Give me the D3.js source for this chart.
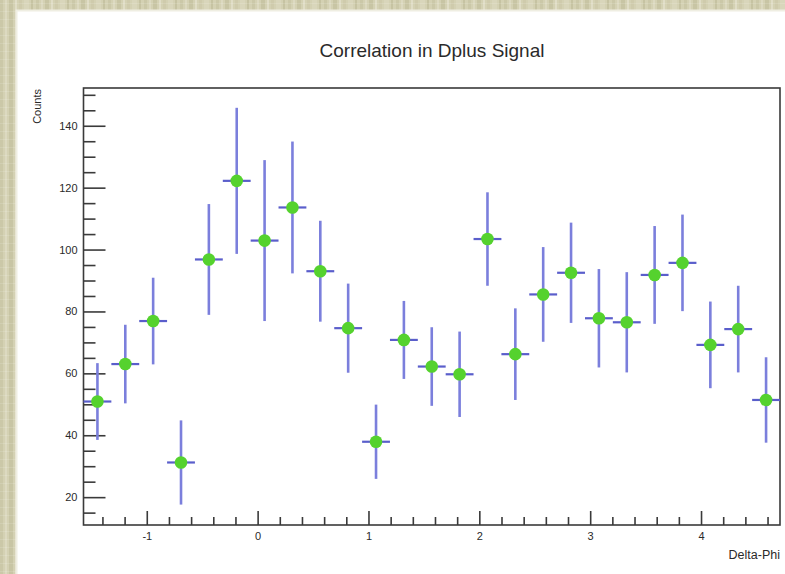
<!DOCTYPE html>
<html>
<head>
<meta charset="utf-8">
<script src="https://cdn.jsdelivr.net/npm/d3@7"></script>
<style>
  html, body { margin: 0; padding: 0; background: #ffffff; }
  svg { display: block; }
  text { font-family: "Liberation Sans", Arial, Helvetica, sans-serif; }
</style>
</head>
<body>
<svg id="chart" width="785" height="574"></svg>
<script>
// Histogram: Delta-Phi correlation of D+ candidates (25 bins over [-pi/2, 3pi/2])
const binCounts = [50.9, 63.0, 76.9, 31.2, 96.8, 122.2, 102.9, 113.6, 93.0, 74.6,
                   37.9, 70.8, 62.2, 59.7, 103.4, 66.2, 85.5, 92.5, 77.8, 76.5,
                   91.8, 95.7, 69.2, 74.3, 51.4];
const binErrors = [12.4, 12.7, 14.0, 13.6, 17.9, 23.6, 26.0, 21.3, 16.3, 14.4,
                   12.0, 12.6, 12.7, 13.8, 15.1, 14.8, 15.3, 16.2, 15.9, 16.2,
                   15.8, 15.6, 14.0, 14.0, 13.8];
const xRange = [-Math.PI / 2, 3 * Math.PI / 2];
const yRange = [11.0, 152.2];
const xMajorTicks = [-1, 0, 1, 2, 3, 4];
const yMajorTicks = [20, 40, 60, 80, 100, 120, 140];
const titleText = "Correlation in Dplus Signal";
const xTitle = "Delta-Phi";
const yTitle = "Counts";

const svg = d3.select("#chart");
const W = 785, H = 574;

// linen-like canvas behind the pad
const defs = svg.append("defs");
const pat = defs.append("pattern")
  .attr("id", "linen").attr("patternUnits", "userSpaceOnUse")
  .attr("width", 36).attr("height", 8);
pat.append("rect").attr("width", 36).attr("height", 8).attr("fill", "#d4d1b3");
[[0, 3, "#cbc8a8"], [5, 2, "#dcd9c0"], [9, 4, "#c8c5a4"], [15, 2, "#e0ddc6"],
 [19, 3, "#cfcbac"], [24, 5, "#d9d6bb"], [31, 2, "#c6c3a2"]].forEach(([px, w, c]) =>
  pat.append("rect").attr("x", px).attr("width", w).attr("height", 8).attr("fill", c));
pat.append("rect").attr("y", 3).attr("width", 36).attr("height", 1)
  .attr("fill", "#ffffff").attr("opacity", 0.12);
svg.append("rect").attr("width", W).attr("height", H).attr("fill", "url(#linen)");

// white pad
svg.append("rect").attr("x", 16).attr("y", 10).attr("width", W - 16).attr("height", H - 10)
  .attr("fill", "#ffffff");
svg.append("path").attr("d", `M16.5,${H} V10.5 H${W}`)
  .attr("fill", "none").attr("stroke", "#efeee2").attr("stroke-width", 2);

// frame geometry
const frameL = 83.5, frameR = 780, frameT = 88, frameB = 525;
const x = d3.scaleLinear().domain(xRange).range([frameL, frameR]);
const y = d3.scaleLinear().domain(yRange).range([frameB, frameT]);

const axisColor = "#3a3a3a";
const textColor = "#2a2a2a";
const plainNum = d => String(d);

// minor tick positions
const xMinor = d3.range(-15, 47).map(i => i / 5)
  .filter(v => v >= xRange[0] && v <= xRange[1] && Math.abs(v - Math.round(v)) > 1e-6);
const yMinor = d3.range(15, 155, 5).filter(v => v >= yRange[0] && v <= yRange[1] && v % 20 !== 0);

// x axis: ticks pointing up into the frame
const gx = svg.append("g").attr("transform", `translate(0,${frameB})`);
gx.call(d3.axisBottom(x).tickValues(xMajorTicks).tickSize(-14).tickPadding(6)
  .tickFormat(plainNum));
const gxm = svg.append("g").attr("transform", `translate(0,${frameB})`);
gxm.call(d3.axisBottom(x).tickValues(xMinor).tickSize(-8).tickFormat(""));

// y axis: ticks pointing right into the frame
const gy = svg.append("g").attr("transform", `translate(${frameL},0)`);
gy.call(d3.axisLeft(y).tickValues(yMajorTicks).tickSize(-22).tickPadding(6)
  .tickFormat(plainNum));
const gym = svg.append("g").attr("transform", `translate(${frameL},0)`);
gym.call(d3.axisLeft(y).tickValues(yMinor).tickSize(-12).tickFormat(""));

[gx, gxm, gy, gym].forEach(g => {
  g.select(".domain").remove();
  g.selectAll(".tick line").attr("stroke", axisColor).attr("stroke-width", 1.6);
  g.selectAll(".tick text").attr("fill", textColor)
    .style("font-family", '"Liberation Sans", Arial, sans-serif').style("font-size", "11px");
});
gx.selectAll(".tick text").attr("dy", "0.85em");

// frame box
svg.append("rect").attr("x", frameL).attr("y", frameT)
  .attr("width", frameR - frameL).attr("height", frameB - frameT)
  .attr("fill", "none").attr("stroke", axisColor).attr("stroke-width", 1.6);

// data points with error bars
const nb = binCounts.length;
const bw = (xRange[1] - xRange[0]) / nb;
const pts = binCounts.map((c, i) => ({
  lo: xRange[0] + i * bw, hi: xRange[0] + (i + 1) * bw,
  xc: xRange[0] + (i + 0.5) * bw, c, e: binErrors[i]
}));
const gp = svg.append("g");
gp.selectAll("line.v").data(pts).join("line").attr("class", "v")
  .attr("x1", d => x(d.xc)).attr("x2", d => x(d.xc))
  .attr("y1", d => y(d.c + d.e)).attr("y2", d => y(d.c - d.e))
  .attr("stroke", "#7b7fdc").attr("stroke-width", 2.6);
gp.selectAll("line.h").data(pts).join("line").attr("class", "h")
  .attr("x1", d => x(d.lo)).attr("x2", d => x(d.hi))
  .attr("y1", d => y(d.c)).attr("y2", d => y(d.c))
  .attr("stroke", "#5a5ecb").attr("stroke-width", 2.2);
gp.selectAll("circle").data(pts).join("circle")
  .attr("cx", d => x(d.xc)).attr("cy", d => y(d.c)).attr("r", 6.3)
  .attr("fill", "#55d22e");

// titles
svg.append("text").attr("x", 432).attr("y", 57).attr("text-anchor", "middle")
  .attr("fill", textColor).style("font-size", "19px").text(titleText);
svg.append("text").attr("x", frameR).attr("y", 559).attr("text-anchor", "end")
  .attr("fill", textColor).style("font-size", "12.5px").text(xTitle);
svg.append("text").attr("transform", `translate(41,${frameT + 1}) rotate(-90)`)
  .attr("text-anchor", "end").attr("fill", textColor).style("font-size", "11px").text(yTitle);
</script>
</body>
</html>
